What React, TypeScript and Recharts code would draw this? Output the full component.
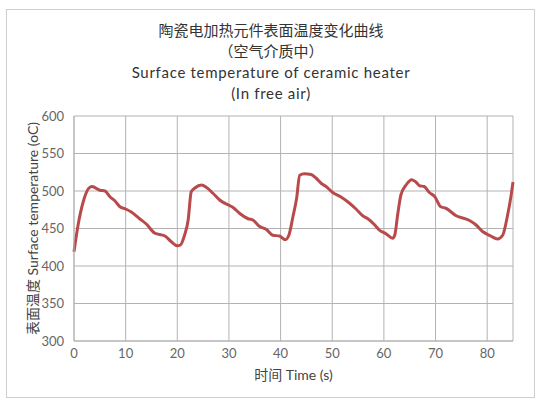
import { CartesianGrid, Label, Line, LineChart, XAxis, YAxis } from "recharts";

const timeS = [
  0, 0.8, 1.8, 2.9, 3.5, 5.0, 6.0, 7.0, 7.9, 8.9, 10.0, 11.1, 12.7, 14.0, 15.6, 16.6, 17.6, 18.9, 20.0, 20.6,
  21.4, 22.1, 22.7, 23.4, 24.7, 25.6, 26.9, 28.2, 30.0, 30.8, 32.1, 33.7, 34.7, 35.9, 37.2, 38.5, 39.8, 40.9,
  41.6, 42.4, 43.1, 43.7, 44.6, 45.9, 46.9, 47.9, 48.8, 50.1, 51.7, 53.3, 54.6, 55.9, 56.9, 58.2, 59.1, 60.4,
  61.7, 62.1, 62.7, 63.3, 64.3, 65.4, 66.2, 66.9, 67.8, 68.8, 69.8, 71.0, 72.0, 74.0, 76.5, 77.8, 79.1, 80.7,
  82.0, 83.0, 83.9, 84.7, 85.0,
];
const surfaceTemp = [
  419, 455, 486, 504, 506, 501, 500, 492, 487, 479, 476, 472, 463, 456, 444, 442, 440, 432, 427, 428,
  441, 461, 499, 504, 508, 505, 497, 488, 481, 478, 470, 463, 461, 453, 449, 441, 440, 435,
  441, 466, 490, 521, 523, 522, 517, 510, 506, 498, 492, 484, 476, 467, 463, 455, 448, 443,
  437, 441, 470, 495, 508, 515, 512, 507, 506, 498, 493, 479, 477, 467, 461, 455, 446, 440,
  436, 441, 466, 497, 512,
];
const xTicks = [0, 10, 20, 30, 40, 50, 60, 70, 80];
const yTicks = [300, 350, 400, 450, 500, 550, 600];
const titleLines = ["陶瓷电加热元件表面温度变化曲线", "（空气介质中）", "Surface temperature of ceramic heater", "(In free air)"];

const data = timeS.map((t, i) => ({ t, temp: surfaceTemp[i] }));
const font = "Lato, 'Noto Sans CJK SC', sans-serif";
const gray = "#b3b3b3";

export default function App() {
  return (
    <div style={{ position: "absolute", left: 0, top: 0, width: 544, height: 408, background: "#fff", fontFamily: font }}>
      <div style={{ position: "absolute", left: 6, top: 9, width: 527, height: 387, border: "1px solid #cfcfcf" }} />
      <div style={{ position: "absolute", left: 0, top: 20, width: 542, textAlign: "center", color: "#333", fontSize: 15, lineHeight: "21px" }}>
        {titleLines.map((s, i) => (
          <div key={s} style={{ letterSpacing: i >= 2 ? 0.7 : 0 }}>{s}</div>
        ))}
      </div>
      <LineChart width={544} height={408} data={data} margin={{ top: 116, right: 31, left: 0, bottom: 0 }} style={{ position: "absolute", left: 0, top: 0 }}>
        <CartesianGrid stroke={gray} strokeWidth={1} />
        <XAxis
          dataKey="t"
          type="number"
          domain={[0, 85]}
          ticks={xTicks}
          height={67}
          stroke={gray}
          tickLine={false}
          tickSize={0}
          tickMargin={8}
          tick={{ fill: "#666", fontSize: 13, fontFamily: font }}
        >
          <Label value="时间 Time (s)" position="insideTop" offset={29} fill="#444" fontSize={14} fontFamily={font} />
        </XAxis>
        <YAxis
          type="number"
          domain={[300, 600]}
          ticks={yTicks}
          width={74}
          stroke={gray}
          tickLine={false}
          tickSize={0}
          tickMargin={10}
          tick={{ fill: "#666", fontSize: 13, fontFamily: font }}
        >
          <Label value="表面温度 Surface temperature (oC)" angle={-90} position="insideLeft" offset={33} fill="#444" fontSize={14} fontFamily={font} style={{ textAnchor: "middle" }} />
        </YAxis>
        <Line type="monotone" dataKey="temp" stroke="#b94a4c" strokeWidth={3} dot={false} isAnimationActive={false} />
      </LineChart>
    </div>
  );
}
